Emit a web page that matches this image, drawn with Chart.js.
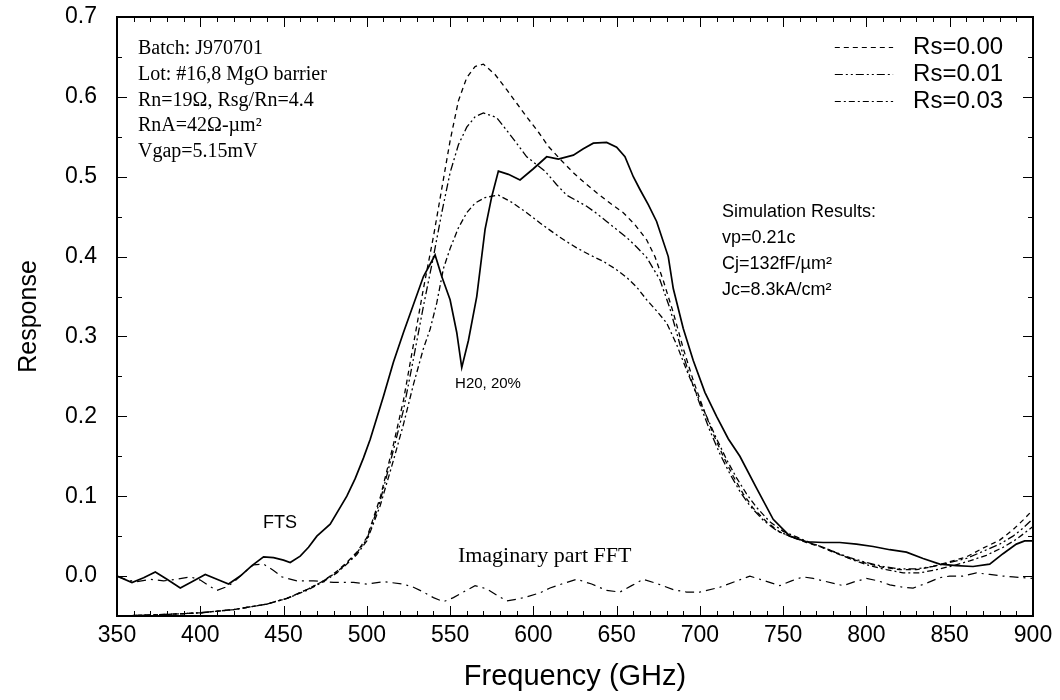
<!DOCTYPE html>
<html>
<head>
<meta charset="utf-8">
<title>Response vs Frequency</title>
<script src="https://cdn.jsdelivr.net/npm/chart.js@4.4.1/dist/chart.umd.min.js"></script>
<style>
  html, body { margin: 0; padding: 0; background: #fff; }
  #wrap { width: 1060px; height: 700px; }
</style>
</head>
<body>
<div id="wrap"><canvas id="grafico" width="1060" height="700"></canvas></div>
<script>
// measured FTS response (solid)
const ftsFreq = [350, 359, 366, 373, 380, 388, 395, 403, 410, 417, 424, 431, 438, 444, 450, 454, 460, 465, 470, 478,
  488, 493, 498, 502, 510, 516, 522, 528, 534, 541, 545, 550, 554, 557, 561, 566, 571, 575, 579, 585,
  592, 600, 608, 615, 624, 630, 636, 644, 650, 655, 660, 664, 669, 674, 681, 684, 690, 696, 703, 710,
  717, 724, 734, 744, 754, 764, 774, 784, 794, 804, 814, 824, 834, 844, 854, 864, 874, 882, 890, 895, 900];
const ftsResp = [0.000, -0.008, -0.002, 0.005, -0.004, -0.015, -0.007, 0.002, -0.004, -0.010, 0.000, 0.013, 0.024, 0.023, 0.020, 0.017, 0.025, 0.036, 0.050, 0.065,
  0.100, 0.122, 0.148, 0.171, 0.225, 0.268, 0.305, 0.340, 0.375, 0.402, 0.375, 0.346, 0.305, 0.261, 0.295, 0.350, 0.434, 0.475, 0.507, 0.503,
  0.496, 0.510, 0.525, 0.522, 0.527, 0.535, 0.542, 0.543, 0.537, 0.525, 0.500, 0.484, 0.465, 0.444, 0.400, 0.360, 0.310, 0.270, 0.230, 0.200,
  0.172, 0.150, 0.110, 0.071, 0.050, 0.043, 0.042, 0.042, 0.040, 0.037, 0.033, 0.030, 0.022, 0.015, 0.013, 0.012, 0.015, 0.028, 0.040, 0.044, 0.044];

// simulation, Rs=0.00
const rs000Freq = [350, 380, 400, 420, 440, 452, 465, 474, 482, 488, 494, 500, 508, 516, 522, 528, 534, 540, 545, 550,
  555, 560, 565, 570, 577, 584, 590, 596, 603, 609, 617, 624, 631, 638, 646, 654, 661, 668, 673, 678,
  684, 690, 696, 702, 708, 714, 720, 726, 732, 740, 748, 756, 764, 772, 780, 790, 800, 810, 820, 830,
  840, 850, 860, 870, 880, 888, 894, 900];
const rs000Resp = [-0.050, -0.048, -0.046, -0.042, -0.035, -0.028, -0.016, -0.006, 0.006, 0.017, 0.030, 0.048, 0.098, 0.165, 0.220, 0.290, 0.360, 0.425, 0.485, 0.545,
  0.595, 0.624, 0.638, 0.641, 0.628, 0.609, 0.592, 0.575, 0.556, 0.538, 0.520, 0.505, 0.492, 0.480, 0.467, 0.455, 0.440, 0.421, 0.400, 0.370,
  0.330, 0.285, 0.245, 0.210, 0.178, 0.150, 0.125, 0.103, 0.085, 0.068, 0.055, 0.048, 0.042, 0.037, 0.030, 0.022, 0.016, 0.011, 0.008, 0.008,
  0.012, 0.018, 0.024, 0.035, 0.045, 0.058, 0.070, 0.083];

// simulation, Rs=0.01
const rs001Freq = [350, 380, 400, 420, 440, 452, 465, 474, 482, 488, 494, 500, 508, 516, 522, 528, 534, 540, 545, 550,
  555, 560, 565, 570, 578, 587, 596, 607, 614, 620, 626, 632, 638, 644, 650, 656, 662, 668, 672, 676,
  682, 688, 694, 700, 706, 712, 718, 724, 730, 738, 746, 754, 762, 770, 780, 790, 800, 810, 820, 830,
  840, 850, 860, 870, 880, 888, 894, 900];
const rs001Resp = [-0.050, -0.048, -0.046, -0.042, -0.035, -0.028, -0.016, -0.006, 0.005, 0.016, 0.029, 0.046, 0.094, 0.158, 0.208, 0.272, 0.338, 0.400, 0.455, 0.505,
  0.540, 0.562, 0.575, 0.580, 0.574, 0.550, 0.525, 0.507, 0.490, 0.477, 0.470, 0.463, 0.454, 0.444, 0.434, 0.424, 0.412, 0.399, 0.385, 0.371,
  0.335, 0.290, 0.250, 0.215, 0.182, 0.153, 0.128, 0.106, 0.088, 0.070, 0.057, 0.050, 0.044, 0.039, 0.031, 0.023, 0.017, 0.012, 0.009, 0.009,
  0.012, 0.017, 0.022, 0.031, 0.040, 0.050, 0.060, 0.072];

// simulation, Rs=0.03
const rs003Freq = [350, 380, 400, 420, 440, 452, 465, 474, 482, 488, 494, 500, 508, 516, 522, 528, 534, 538, 542, 546,
  550, 555, 560, 565, 571, 579, 587, 596, 604, 612, 619, 626, 634, 642, 649, 656, 662, 668, 674, 680,
  686, 692, 698, 704, 710, 716, 722, 728, 734, 742, 750, 758, 766, 774, 782, 792, 802, 812, 822, 832,
  842, 852, 862, 872, 882, 890, 900];
const rs003Resp = [-0.050, -0.048, -0.046, -0.042, -0.035, -0.028, -0.017, -0.007, 0.004, 0.015, 0.027, 0.044, 0.088, 0.145, 0.190, 0.240, 0.285, 0.309, 0.342, 0.385,
  0.410, 0.436, 0.455, 0.467, 0.474, 0.477, 0.468, 0.455, 0.442, 0.430, 0.420, 0.411, 0.402, 0.394, 0.385, 0.374, 0.362, 0.346, 0.332, 0.317,
  0.290, 0.258, 0.228, 0.200, 0.172, 0.146, 0.123, 0.103, 0.086, 0.068, 0.056, 0.049, 0.042, 0.036, 0.029, 0.020, 0.013, 0.008, 0.004, 0.004,
  0.008, 0.013, 0.019, 0.026, 0.036, 0.046, 0.062];

// imaginary part of the FFT
const imagFreq = [350, 356, 362, 370, 378, 386, 394, 400, 405, 410, 415, 420, 426, 432, 438, 444, 449, 458, 468, 480,
  492, 500, 510, 522, 528, 534, 540, 546, 552, 558, 565, 572, 578, 584, 590, 596, 604, 610, 617, 626,
  635, 644, 652, 659, 666, 675, 684, 692, 700, 712, 721, 730, 739, 748, 755, 762, 768, 774, 786, 793,
  800, 807, 814, 822, 828, 836, 844, 850, 858, 866, 874, 882, 888, 894, 900];
const imagResp = [0.000, -0.005, -0.007, -0.004, -0.006, -0.004, -0.001, -0.005, -0.012, -0.018, -0.014, -0.008, 0.004, 0.014, 0.015, 0.007, -0.001, -0.006, -0.006, -0.008,
  -0.008, -0.010, -0.007, -0.010, -0.014, -0.020, -0.027, -0.032, -0.027, -0.020, -0.012, -0.016, -0.024, -0.031, -0.029, -0.026, -0.021, -0.015, -0.010, -0.004,
  -0.010, -0.018, -0.020, -0.012, -0.004, -0.010, -0.017, -0.020, -0.020, -0.014, -0.007, 0.000, -0.006, -0.012, -0.006, -0.001, -0.003, -0.006, -0.012, -0.007,
  -0.003, -0.006, -0.011, -0.014, -0.015, -0.009, -0.002, 0.000, 0.000, 0.004, 0.002, 0.000, -0.001, -0.002, -0.003];

const xTicks = [350, 400, 450, 500, 550, 600, 650, 700, 750, 800, 850, 900];
const yTicks = [0.0, 0.1, 0.2, 0.3, 0.4, 0.5, 0.6, 0.7];

const notasLote = ['Batch: J970701', 'Lot: #16,8 MgO barrier', 'Rn=19Ω, Rsg/Rn=4.4', 'RnA=42Ω-µm²', 'Vgap=5.15mV'];
const notasSimulacao = ['Simulation Results:', 'vp=0.21c', 'Cj=132fF/µm²', 'Jc=8.3kA/cm²'];

const pontos = (xs, ys) => xs.map((x, i) => ({ x: x, y: ys[i] }));

const SANS = '"Liberation Sans", Arial, sans-serif';
const SERIF = '"Liberation Serif", "Times New Roman", serif';

// frame + inward ticks on all four sides
const molduraPlugin = {
  id: 'moldura',
  afterDatasetsDraw(chart) {
    const { ctx, chartArea: a, scales: { x, y } } = chart;
    ctx.save();
    ctx.strokeStyle = '#000';
    ctx.lineWidth = 1;
    ctx.setLineDash([]);
    ctx.beginPath();
    for (let f = 350; f <= 900; f += 10) {
      const px = Math.round(x.getPixelForValue(f)) + 0.5;
      const len = f % 50 === 0 ? 10 : 5;
      ctx.moveTo(px, a.bottom); ctx.lineTo(px, a.bottom - len);
      ctx.moveTo(px, a.top); ctx.lineTo(px, a.top + len);
    }
    for (let k = -1; k <= 14; k++) {
      const py = Math.round(y.getPixelForValue(k * 0.05)) + 0.5;
      const len = k % 2 === 0 ? 10 : 5;
      ctx.moveTo(a.left, py); ctx.lineTo(a.left + len, py);
      ctx.moveTo(a.right, py); ctx.lineTo(a.right - len, py);
    }
    ctx.stroke();
    ctx.lineWidth = 2;
    ctx.strokeRect(a.left, a.top, a.right - a.left, a.bottom - a.top);
    ctx.restore();
  }
};

// legend + text notes placed in data coordinates
const notasPlugin = {
  id: 'notas',
  afterDraw(chart) {
    const { ctx, scales: { x, y } } = chart;
    ctx.save();
    ctx.fillStyle = '#000';
    ctx.textBaseline = 'middle';
    ctx.textAlign = 'left';

    ctx.font = '20px ' + SERIF;
    notasLote.forEach((t, i) => ctx.fillText(t, x.getPixelForValue(362.6), y.getPixelForValue(0.66) + i * 25.7));

    ctx.font = '18px ' + SANS;
    notasSimulacao.forEach((t, i) => ctx.fillText(t, x.getPixelForValue(713.3), y.getPixelForValue(0.456) + i * 26));

    // legend
    const sims = chart.data.datasets.slice(1, 4);
    ctx.font = '24px ' + SANS;
    sims.forEach((ds, i) => {
      const py = Math.round(y.getPixelForValue(0.6625) + i * 27) + 0.5;
      ctx.save();
      ctx.strokeStyle = '#000';
      ctx.lineWidth = 1.2;
      ctx.setLineDash(ds.borderDash);
      ctx.beginPath();
      ctx.moveTo(x.getPixelForValue(781), py);
      ctx.lineTo(x.getPixelForValue(816), py);
      ctx.stroke();
      ctx.restore();
      ctx.fillText(ds.label, x.getPixelForValue(828), py);
    });

    ctx.font = '15px ' + SANS;
    ctx.fillText('H20, 20%', x.getPixelForValue(553), y.getPixelForValue(0.241));
    ctx.font = '18px ' + SANS;
    ctx.fillText('FTS', x.getPixelForValue(437.7), y.getPixelForValue(0.066));
    ctx.font = '22px ' + SERIF;
    ctx.fillText('Imaginary part FFT', x.getPixelForValue(554.7), y.getPixelForValue(0.025));
    ctx.restore();
  }
};

const linha = (label, xs, ys, dash, width) => ({
  label: label,
  data: pontos(xs, ys),
  showLine: true,
  borderColor: '#000',
  backgroundColor: '#000',
  borderWidth: width,
  borderDash: dash,
  pointRadius: 0,
  tension: 0,
  fill: false
});

new Chart(document.getElementById('grafico'), {
  type: 'scatter',
  data: {
    datasets: [
      linha('FTS', ftsFreq, ftsResp, [], 1.7),
      linha('Rs=0.00', rs000Freq, rs000Resp, [5, 4], 1.3),
      linha('Rs=0.01', rs001Freq, rs001Resp, [8, 3, 2, 3, 2, 3], 1.3),
      linha('Rs=0.03', rs003Freq, rs003Resp, [6, 3, 2, 3], 1.3),
      linha('Imaginary part FFT', imagFreq, imagResp, [9, 5, 2, 5], 1.2)
    ]
  },
  options: {
    responsive: false,
    animation: false,
    devicePixelRatio: 1,
    layout: { padding: { top: 17, right: 27, left: 0, bottom: 0 } },
    plugins: { legend: { display: false }, tooltip: { enabled: false } },
    scales: {
      x: {
        type: 'linear',
        min: 350, max: 900,
        afterFit: s => { s.height = 84; s.paddingLeft = 0; s.paddingRight = 0; },
        afterBuildTicks: s => { s.ticks = xTicks.map(v => ({ value: v })); },
        grid: { display: false, drawTicks: false },
        border: { display: false },
        ticks: { color: '#000', padding: 6, maxRotation: 0, autoSkip: false, font: { family: SANS, size: 23 }, callback: v => String(v) },
        title: { display: true, text: 'Frequency (GHz)', color: '#000', padding: { top: 0, bottom: 6 }, font: { family: SANS, size: 29 } }
      },
      y: {
        type: 'linear',
        min: -0.05, max: 0.7,
        afterFit: s => { s.width = 117; s.paddingTop = 0; s.paddingBottom = 0; },
        afterBuildTicks: s => { s.ticks = yTicks.map(v => ({ value: v })); },
        grid: { display: false, drawTicks: false },
        border: { display: false },
        ticks: { color: '#000', padding: 20, autoSkip: false, font: { family: SANS, size: 23 }, callback: v => v.toFixed(1) },
        title: { display: true, text: 'Response', color: '#000', padding: { top: 14, bottom: 0 }, font: { family: SANS, size: 25 } }
      }
    }
  },
  plugins: [molduraPlugin, notasPlugin]
});
</script>
</body>
</html>
